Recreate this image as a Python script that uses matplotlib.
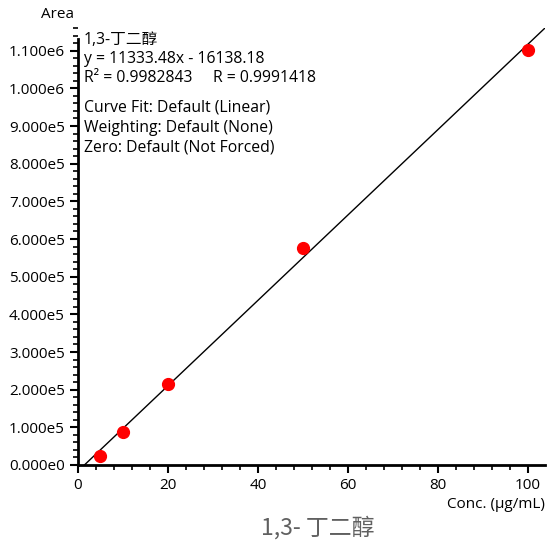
import numpy as np
import matplotlib
matplotlib.use('Agg')
import matplotlib.pyplot as plt
from matplotlib.ticker import MultipleLocator, FuncFormatter

plt.rcParams['font.family'] = ['Open Sans', 'Noto Sans CJK SC', 'DejaVu Sans']

# calibration data
conc = [5, 10, 20, 50, 100]
area = [25000, 88000, 215000, 575000, 1103000]
slope = 11333.48
intercept = -16138.18
x_ticks = [0, 20, 40, 60, 80, 100]
y_ticks = [0, 1e5, 2e5, 3e5, 4e5, 5e5, 6e5, 7e5, 8e5, 9e5, 1e6, 1.1e6]
info_lines = ['1,3-丁二醇', 'y = 11333.48x - 16138.18', 'R² = 0.9982843     R = 0.9991418',
              'Curve Fit: Default (Linear)', 'Weighting: Default (None)', 'Zero: Default (Not Forced)']

W, H = 547, 549
fig = plt.figure(figsize=(W / 100, H / 100), dpi=100)
ax = fig.add_axes([78 / W, 1 - 465 / H, (545 - 78) / W, (465 - 28) / H])

xmax = 103.8
ax.set_xlim(0, xmax)
ax.set_ylim(0, slope * xmax + intercept)

xl = np.array([-intercept / slope, xmax])
ax.plot(xl, slope * xl + intercept, color='black', lw=1)
ax.plot(conc, area, 'o', color='red', ms=8.5, clip_on=False, zorder=3)

for s in ['top', 'right']:
    ax.spines[s].set_visible(False)
ax.spines['left'].set_bounds(0, 1.13e6)
ax.spines['left'].set_linewidth(2)
ax.spines['bottom'].set_linewidth(2)

ax.set_xticks(x_ticks)
ax.xaxis.set_minor_locator(MultipleLocator(4))
ax.set_yticks(y_ticks)
ax.yaxis.set_minor_locator(MultipleLocator(2e4))


def sci(v, pos):
    if v == 0:
        return '0.000e0'
    e = int(np.floor(np.log10(v) + 1e-9))
    return '%.3fe%d' % (v / 10 ** e, e)


ax.yaxis.set_major_formatter(FuncFormatter(sci))
ax.tick_params(which='major', direction='out', length=6, width=1.5, labelsize=11, colors='black')
ax.tick_params(which='minor', direction='out', length=3.5, width=1.2)

fig.text(58 / W, 1 - 14 / H, 'Area', ha='center', va='center', fontsize=11)
fig.text(545 / W, 1 - 504 / H, 'Conc. (µg/mL)', ha='right', va='center', fontsize=11)
fig.text(318 / W, 1 - 528 / H, '1,3- 丁二醇', ha='center', va='center', fontsize=16.5, color='#606060',
         family=['Noto Sans CJK SC', 'DejaVu Sans'])

ys = [40, 59, 78, 107, 128, 147]
for t, yy in zip(info_lines, ys):
    fig.text(84 / W, 1 - yy / H, t, ha='left', va='center', fontsize=11.3)

fig.savefig('out.png', dpi=100)
